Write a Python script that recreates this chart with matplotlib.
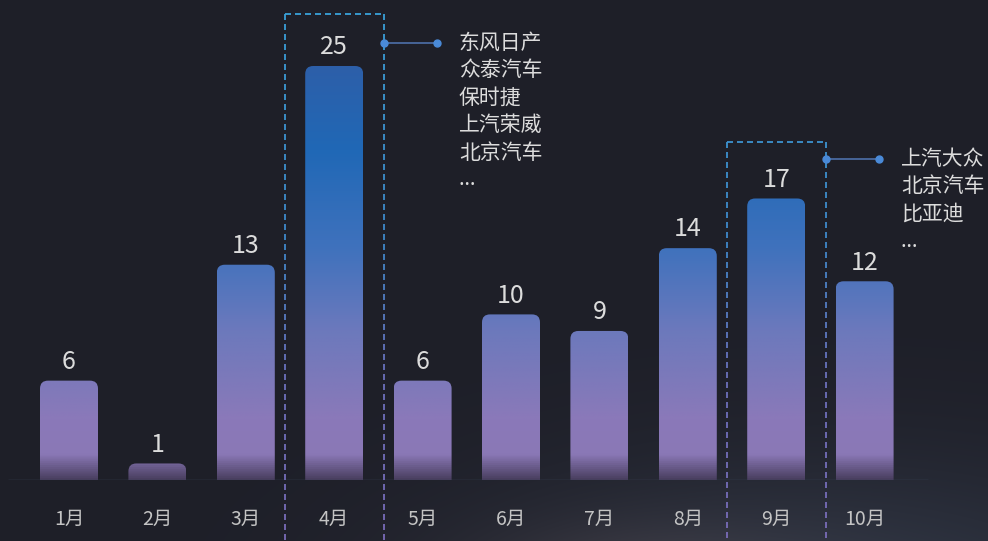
import numpy as np
import matplotlib
matplotlib.use("Agg")
import matplotlib.pyplot as plt
from matplotlib.colors import LinearSegmentedColormap, to_rgb
from matplotlib.patches import FancyBboxPatch
from matplotlib.collections import LineCollection

plt.rcParams['font.family'] = ['Noto Sans CJK SC', 'DejaVu Sans']

# ---- data -------------------------------------------------------------
months = ["1月", "2月", "3月", "4月", "5月", "6月", "7月", "8月", "9月", "10月"]
counts = [6, 1, 13, 25, 6, 10, 9, 14, 17, 12]

highlight_months = ["4月", "9月"]
highlight_brands = [
    ["东风日产", "众泰汽车", "保时捷", "上汽荣威", "北京汽车", "…"],
    ["上汽大众", "北京汽车", "比亚迪", "…"],
]

# ---- layout (pixels of a 988x541 canvas) ------------------------------
W, H, DPI = 988, 541, 100
BASE_PX = 480            # baseline row measured from the top
UNIT_PX = 16.56          # pixels per count
STEP_PX = 88.4           # pixels between month centres
FIRST_PX = 69            # centre of the first month
BAR_W = 0.656            # in month steps
ASPECT = STEP_PX / UNIT_PX

# per highlight: box top offset above value, connector offset above value
box_top_off = [3.14, 3.41]
connector_off = [1.39, 2.38]

BG = "#1e1f28"
TEXT = "#dcdcdc"

fig = plt.figure(figsize=(W / DPI, H / DPI), dpi=DPI, facecolor=BG)

# soft glow along the bottom of the canvas
bg_ax = fig.add_axes([0, 0, 1, 1], zorder=0)
bg_ax.axis("off")
yy, xx = np.mgrid[0:H, 0:W]
base = np.array(to_rgb(BG))
glow1 = np.exp(-(((xx - 840) / 360.0) ** 2 + ((yy - 610) / 150.0) ** 2))
glow2 = np.exp(-(((xx - 640) / 170.0) ** 2 + ((yy - 580) / 60.0) ** 2))
img = (base[None, None, :]
       + glow1[..., None] * (np.array(to_rgb("#303644")) - base)
       + glow2[..., None] * (np.array(to_rgb("#3a3338")) - base) * 0.7)
bg_ax.imshow(np.clip(img, 0, 1), extent=(0, 1, 0, 1), aspect="auto", origin="upper")
bg_ax.set_xlim(0, 1)
bg_ax.set_ylim(0, 1)

# main axes: full width, baseline at BASE_PX
ax = fig.add_axes([0, (H - BASE_PX) / H, 1, BASE_PX / H], zorder=1)
ax.set_facecolor("none")
ax.axis("off")
x0 = -FIRST_PX / STEP_PX
x1 = (W - FIRST_PX) / STEP_PX
ytop = BASE_PX / UNIT_PX
ybot = -(H - BASE_PX) / UNIT_PX

# vertical gradient shared by all bars (position in counts -> colour)
grad_stops = [
    (0.0, "#4a3f60"),
    (1.5, "#8a78b6"),
    (3.6, "#8b79b9"),
    (9.0, "#6c79bc"),
    (13.9, "#4072bd"),
    (19.9, "#2068b6"),
    (25.0, "#2d5fa9"),
    (ytop, "#3159a0"),
]
bar_cmap = LinearSegmentedColormap.from_list(
    "bars", [(p / ytop, c) for p, c in grad_stops])
grad = np.linspace(0, 1, 512)[:, None]

xs = np.arange(len(months))
for i, v in zip(xs, counts):
    patch = FancyBboxPatch((i - BAR_W / 2, -1), BAR_W, v + 1,
                           boxstyle="round,pad=0,rounding_size=0.09",
                           mutation_aspect=ASPECT, fc="none", ec="none")
    ax.add_patch(patch)
    im = ax.imshow(grad, extent=(i - BAR_W / 2, i + BAR_W / 2, 0, ytop),
                   origin="lower", aspect="auto", cmap=bar_cmap, zorder=2)
    im.set_clip_path(patch)
    ax.annotate(str(v), (i, v), xytext=(0, 13.5), textcoords="offset points",
                ha="center", va="center", fontsize=18, color=TEXT, zorder=4)

# baseline
ax.plot([x0 + 8 / STEP_PX, (928 - FIRST_PX) / STEP_PX], [0, 0],
        color="#3a4458", lw=1.0, zorder=3, solid_capstyle="butt")

# month labels
for i, m in zip(xs, months):
    ax.text(i, -39 / UNIT_PX, m, ha="center", va="center", fontsize=14,
            color="#c4c4c4", clip_on=False)

# dashed highlight frames with a cyan-to-violet tint
line_cmap = LinearSegmentedColormap.from_list(
    "frame", [(0.0, "#7a6cb8"), (0.3, "#6c70bc"), (0.55, "#3f88ca"), (1.0, "#39a2da")])


def frame_colour(y):
    return line_cmap((y - ybot) / (ytop - ybot))


DASH_PX, GAP_PX = 6.0, 4.0
for m, brands, btop, coff in zip(highlight_months, highlight_brands,
                                 box_top_off, connector_off):
    idx = months.index(m)
    v = counts[idx]
    left, right = idx - 0.56, idx + 0.56
    top = v + btop
    segs, cols = [], []
    # vertical edges
    dy, gy = DASH_PX / UNIT_PX, GAP_PX / UNIT_PX
    for xe in (left, right):
        y = top
        while y > ybot:
            y2 = max(y - dy, ybot)
            segs.append([(xe, y), (xe, y2)])
            cols.append(frame_colour((y + y2) / 2))
            y -= dy + gy
    # top edge
    dx, gx = DASH_PX / STEP_PX, GAP_PX / STEP_PX
    x = left
    while x < right:
        xe2 = min(x + dx, right)
        segs.append([(x, top), (xe2, top)])
        cols.append(frame_colour(top))
        x += dx + gx
    ax.add_collection(LineCollection(segs, colors=cols, linewidths=1.3,
                                     zorder=3, clip_on=False))

    # connector with end dots
    cy = v + coff
    dot_x = idx + 1.165
    ax.plot([right, dot_x], [cy, cy], color="#4a6aa0", lw=1.3, zorder=3)
    ax.plot([right, dot_x], [cy, cy], ls="none", marker="o", ms=5,
            color="#4a8ad8", zorder=4)

    # brand list; the trailing ellipsis uses a Latin face so its dots sit low
    line_h = 27.4 / UNIT_PX
    for k, b in enumerate(brands):
        fam = (['Noto Sans', 'Noto Sans CJK SC'] if b == "…"
               else ['Noto Sans CJK SC', 'DejaVu Sans'])
        ax.text(idx + 1.41, cy - k * line_h, b, ha="left", va="center",
                fontsize=15, color=TEXT, zorder=4, family=fam)

ax.set_xlim(x0, x1)
ax.set_ylim(0, ytop)

fig.savefig("out.png", dpi=DPI, facecolor=BG)
